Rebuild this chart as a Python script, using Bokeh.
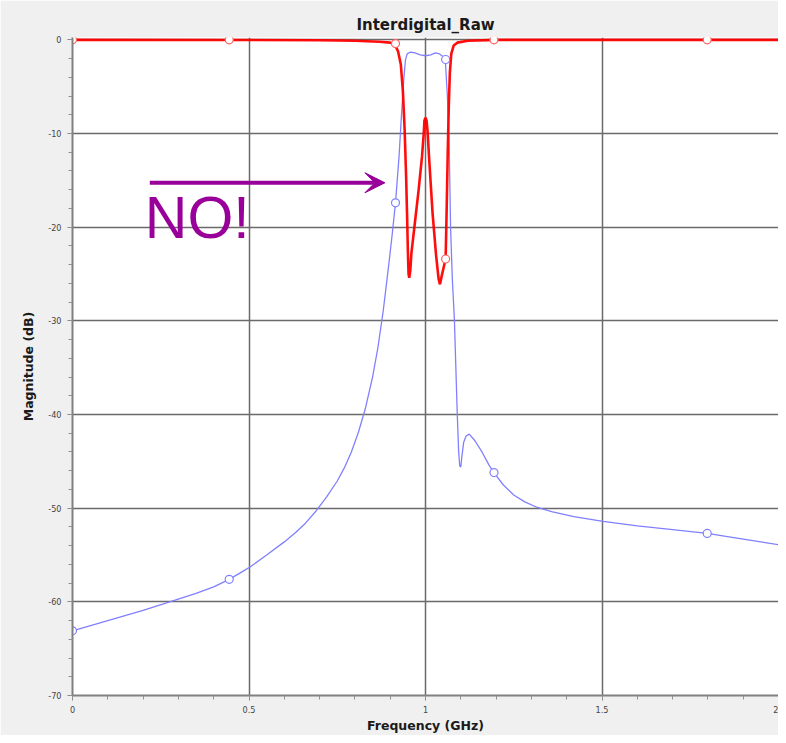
from bokeh.plotting import figure
from bokeh.models import Range1d, FixedTicker, Arrow, VeeHead, Label
from bokeh.embed import file_html
from bokeh.resources import INLINE

# ---------------- data ----------------
x_tick_values = [0, 0.5, 1, 1.5, 2]
x_tick_labels = ["0", "0.5", "1", "1.5", "2"]
y_tick_values = [0, -10, -20, -30, -40, -50, -60, -70]
y_tick_labels = ["0", "-10", "-20", "-30", "-40", "-50", "-60", "-70"]

# S21 (blue)
s21_freq = [0.00, 0.10, 0.20, 0.284, 0.35, 0.40, 0.444, 0.48, 0.506, 0.55, 0.60, 0.632,
            0.66, 0.69, 0.72, 0.75, 0.77, 0.79, 0.81, 0.83, 0.85, 0.865, 0.88, 0.895,
            0.905, 0.915, 0.925, 0.932, 0.938,
            0.943, 0.948, 0.958, 0.97, 0.985, 1.000, 1.015, 1.028, 1.040, 1.050, 1.056,
            1.062, 1.067, 1.071, 1.076, 1.082, 1.086, 1.090, 1.094, 1.097, 1.100, 1.103,
            1.108, 1.115, 1.124, 1.14, 1.16, 1.18, 1.194, 1.22, 1.25, 1.28, 1.315, 1.36,
            1.42, 1.503, 1.60, 1.70, 1.798, 1.90, 2.00]
s21_db = [-63.1, -62.0, -60.9, -59.9, -59.1, -58.4, -57.6, -56.8, -56.2, -55.0, -53.6, -52.6,
          -51.6, -50.3, -48.8, -47.1, -45.7, -44.0, -41.9, -39.3, -36.0, -32.9, -29.0, -24.3,
          -21.0, -17.4, -12.5, -8.0, -4.5,
          -2.2, -1.5, -1.3, -1.4, -1.6, -1.7, -1.6, -1.4, -1.5, -1.8, -2.1,
          -6.0, -11.0, -20.0, -25.5, -30.0, -35.0, -40.0, -44.0, -45.5, -45.6, -44.5,
          -43.0, -42.3, -42.1, -42.8, -44.0, -45.4, -46.2, -47.5, -48.6, -49.3, -49.9, -50.4,
          -50.9, -51.4, -51.9, -52.3, -52.7, -53.3, -53.9]

# S11 (red)
s11_freq = [0.0, 0.5, 0.7, 0.8, 0.87, 0.9, 0.913, 0.922, 0.930, 0.936, 0.941, 0.945, 0.948,
            0.950, 0.952, 0.954, 0.957, 0.96, 0.97, 0.98, 0.99, 0.995, 0.997, 1.000, 1.003,
            1.006, 1.01, 1.02, 1.03, 1.037, 1.041, 1.046, 1.052, 1.057, 1.060, 1.063, 1.066,
            1.069, 1.073, 1.08, 1.09, 1.12, 1.2, 2.0]
s11_db = [0.0, -0.02, -0.05, -0.1, -0.2, -0.3, -0.5, -1.2, -2.6, -5.5, -9.7, -14.5, -19.0,
          -22.5, -25.0, -25.4, -24.6, -22.8, -19.5, -16.2, -12.5, -10.0, -8.6, -8.3, -8.6,
          -9.8, -12.5, -18.5, -23.0, -25.5, -26.1, -25.2, -24.2, -23.4, -18.0, -12.0, -7.0,
          -3.5, -1.5, -0.6, -0.3, -0.1, 0.0, 0.0]

marker_freq = [0.0, 0.444, 0.915, 1.057, 1.194, 1.798]
s11_marker_db = [0.0, 0.0, -0.4, -23.4, 0.0, 0.0]
s21_marker_db = [-63.1, -57.6, -17.4, -2.1, -46.2, -52.7]

title_text = "Interdigital_Raw"
x_label = "Frequency (GHz)"
y_label = "Magnitude (dB)"
note_text = "NO!"
arrow_x0, arrow_x1, arrow_y = 0.219, 0.885, -15.26
note_x, note_y = 0.205, -19.05

RED = "#ff0000"
BLUE = "#8080ff"
PURPLE = "#990099"
GRID = "#6a6a6a"

p = figure(width=778, height=735, output_backend="svg", toolbar_location=None,
           x_range=Range1d(0, 2), y_range=Range1d(-70, 0.25),
           title=title_text)
p.min_border_left = 72
p.min_border_right = 0
p.min_border_top = 37
p.min_border_bottom = 40
p.border_fill_color = "#f0f0f0"
p.background_fill_color = "white"
p.outline_line_color = None

p.title.align = "center"
p.title.text_font = "DejaVu Sans"
p.title.text_font_size = "15px"
p.title.text_font_style = "bold"
p.title.text_color = "#1a1a1a"
p.title.standoff = 8

xminor = [i / 10 for i in range(0, 21)]
yminor = [-i * 2 for i in range(0, 36)]
p.xaxis.ticker = FixedTicker(ticks=x_tick_values, minor_ticks=xminor)
p.yaxis.ticker = FixedTicker(ticks=y_tick_values, minor_ticks=yminor)
p.xaxis.major_label_overrides = {v: l for v, l in zip(x_tick_values, x_tick_labels)}
p.yaxis.major_label_overrides = {v: l for v, l in zip(y_tick_values, y_tick_labels)}

for ax in (p.xaxis, p.yaxis):
    ax.axis_line_color = "#808080"
    ax.axis_line_width = 2
    ax.major_tick_line_color = "#808080"
    ax.minor_tick_line_color = "#909090"
    ax.major_tick_out = 5
    ax.major_tick_in = 0
    ax.minor_tick_out = 4
    ax.minor_tick_in = 0
    ax.major_label_text_font = "DejaVu Sans Condensed"
    ax.major_label_text_font_size = "9px"
    ax.major_label_text_color = "#444444"
    ax.axis_label_text_font = "DejaVu Sans"
    ax.axis_label_text_font_size = "12.5px"
    ax.axis_label_text_font_style = "bold"
    ax.axis_label_text_color = "#1a1a1a"

p.xaxis.axis_label = x_label
p.yaxis.axis_label = y_label
p.xaxis.major_label_standoff = 5
p.xaxis.axis_label_standoff = 2
p.yaxis.major_label_standoff = 6
p.yaxis.axis_label_standoff = 9

p.xgrid.ticker = FixedTicker(ticks=x_tick_values)
p.ygrid.ticker = FixedTicker(ticks=y_tick_values)
p.grid.grid_line_color = GRID
p.grid.grid_line_width = 1.5

p.line(s21_freq, s21_db, line_color=BLUE, line_width=1.3)
p.line(s11_freq, s11_db, line_color=RED, line_width=2.6, line_alpha=0.95)
p.scatter(marker_freq, s21_marker_db, marker="circle", size=8, fill_color="white",
          line_color=BLUE, line_width=1.2)
p.scatter(marker_freq, s11_marker_db, marker="circle", size=8, fill_color="white",
          line_color="#ff6060", line_width=1.2)

p.add_layout(Arrow(end=VeeHead(size=20, fill_color=PURPLE, line_color=PURPLE),
                   x_start=arrow_x0, y_start=arrow_y, x_end=arrow_x1, y_end=arrow_y,
                   line_color=PURPLE, line_width=4))
p.add_layout(Label(x=note_x, y=note_y, text=note_text, text_color=PURPLE,
                   text_font="Liberation Sans", text_font_size="59px",
                   text_baseline="middle", text_align="left"))

open("out.html", "w").write(file_html(p, INLINE))
